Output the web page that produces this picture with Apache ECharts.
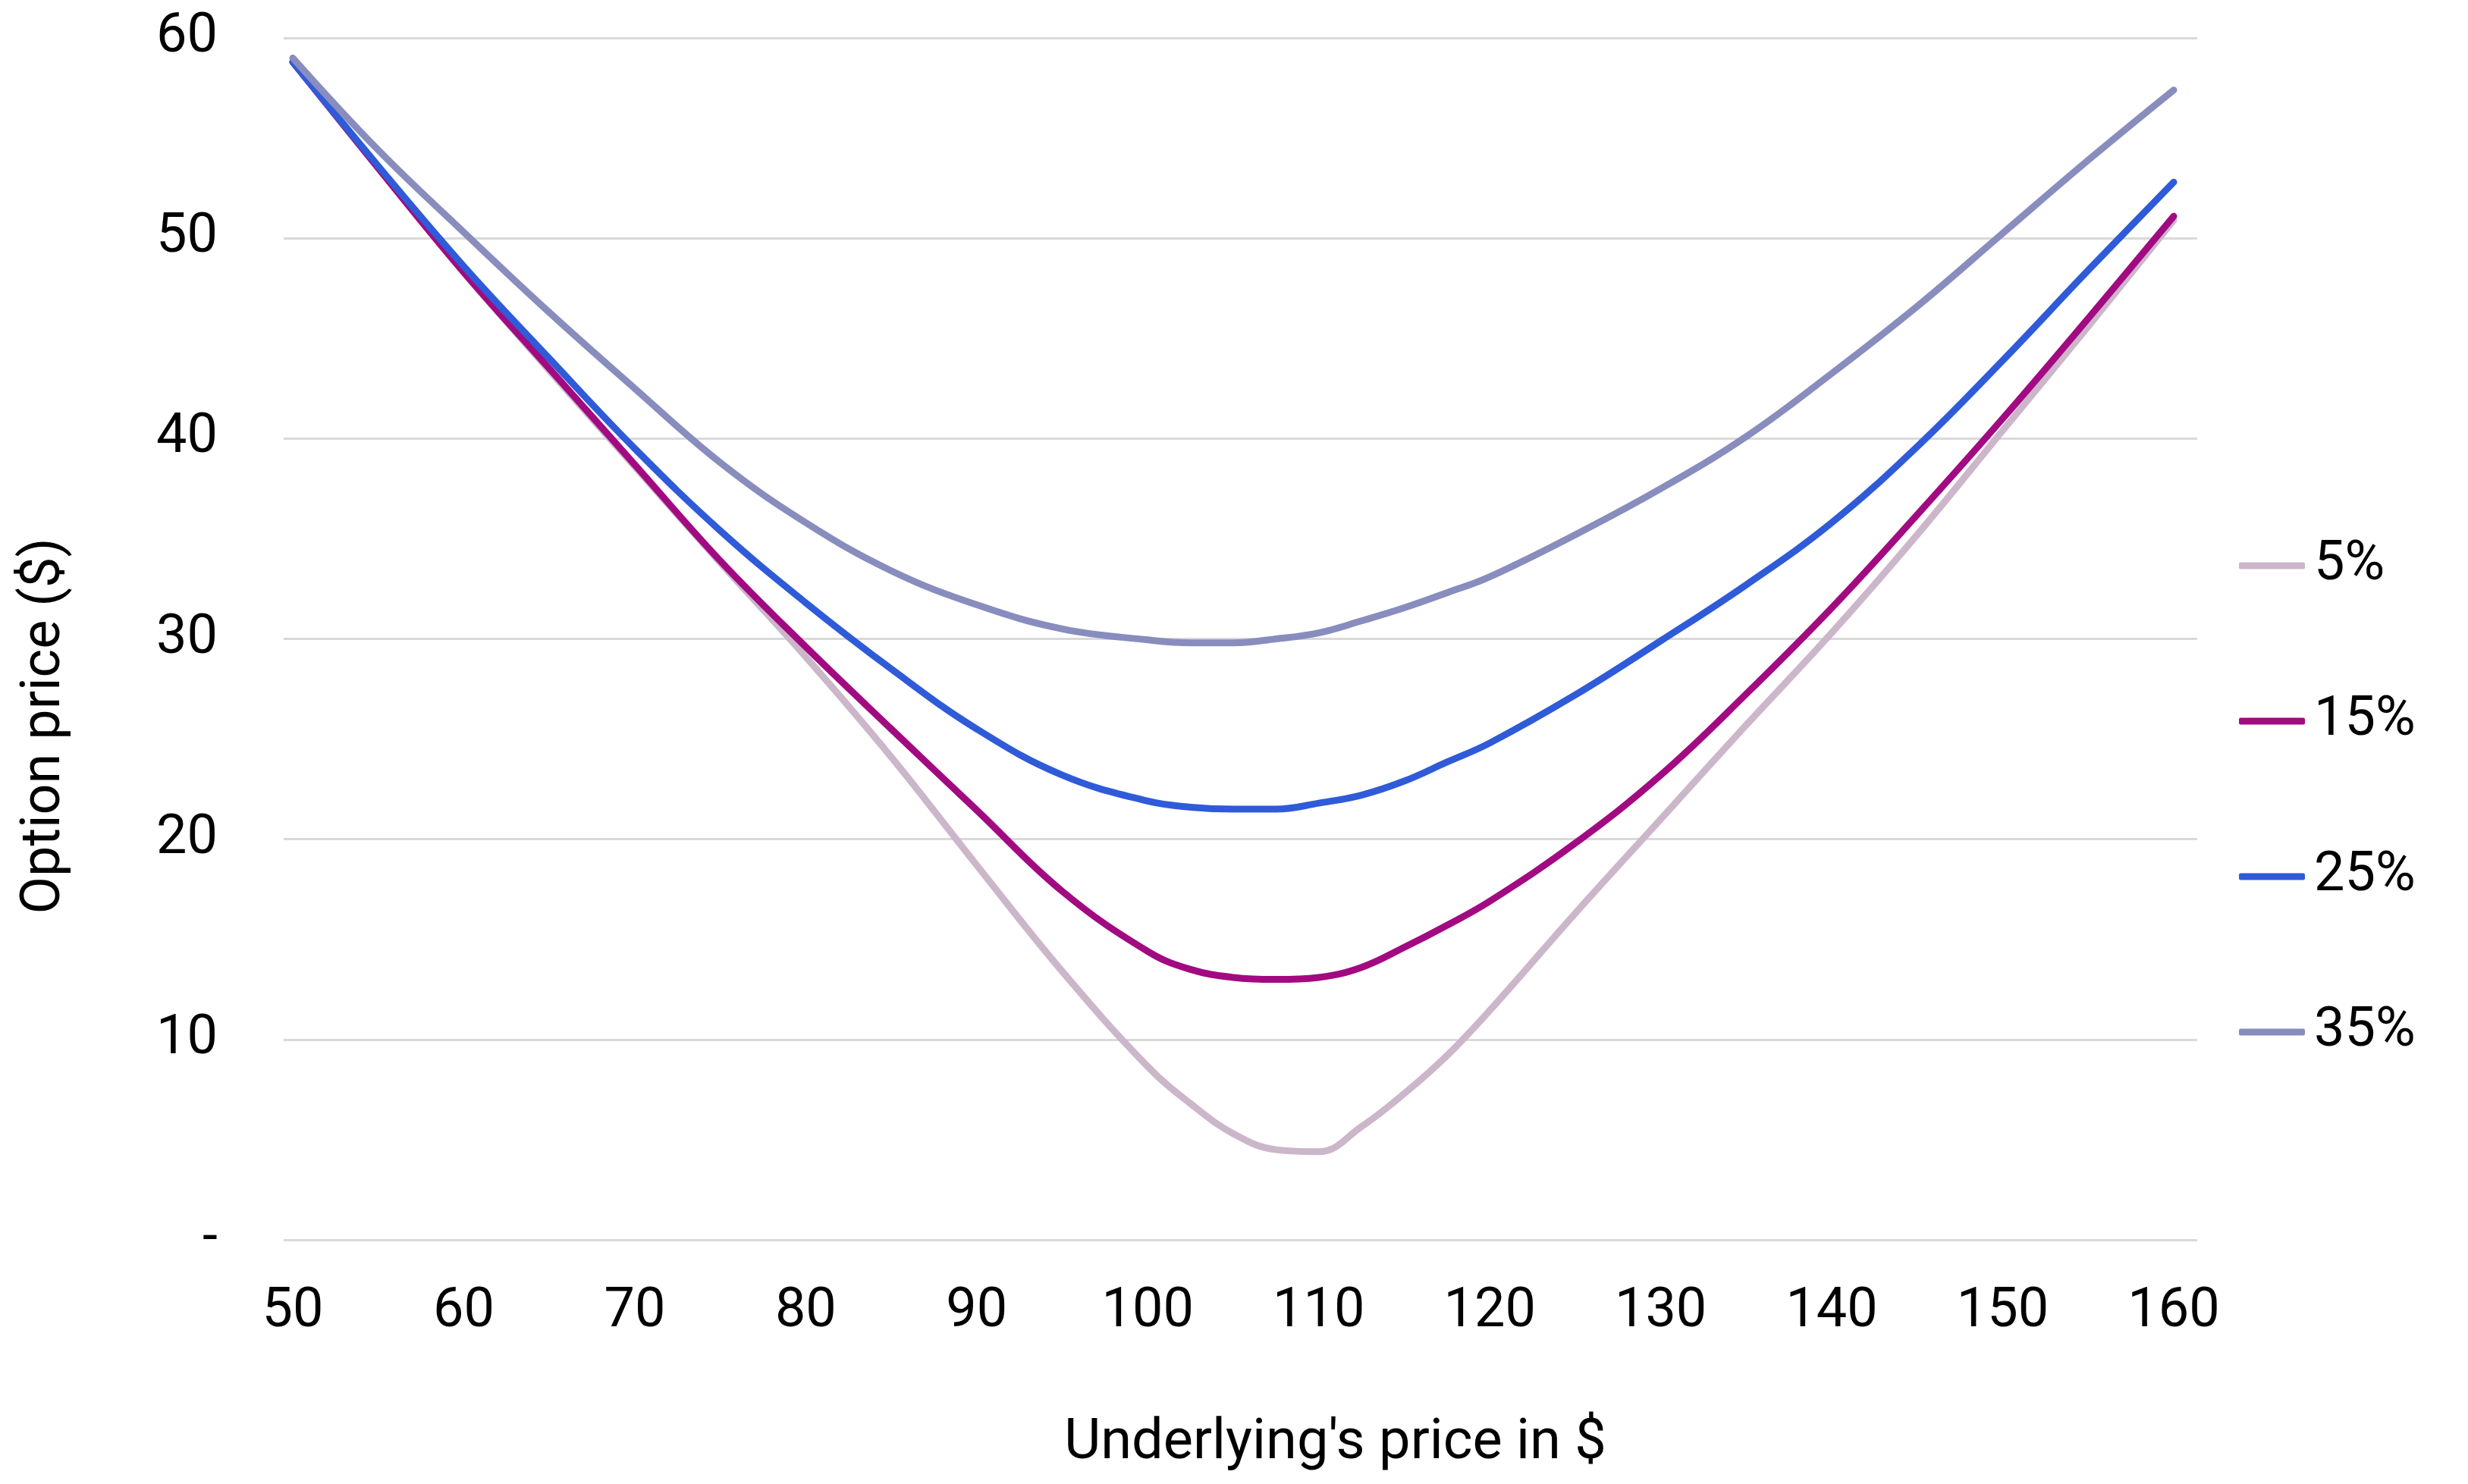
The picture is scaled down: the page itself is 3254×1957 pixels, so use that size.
<!DOCTYPE html>
<html>
<head>
<meta charset="utf-8">
<script src="https://cdn.jsdelivr.net/npm/echarts@6/dist/echarts.min.js"></script>
<style>
html,body{margin:0;padding:0;background:#fff;}
#chart{width:3254px;height:1957px;}
</style>
</head>
<body>
<div id="chart"></div>
<script>
// Underlying's price ($)
const prices = [50,55,60,65,70,75,80,85,90,95,100,102.5,105,107.5,110,112.5,115,117.5,120,125,130,135,140,145,150,155,160];
// Option price ($) per volatility
const vol5  = [58.8,53.5,48.3,43.4,38.6,33.8,29.1,24.1,18.7,13.4,8.65,6.8,5.3,4.5,4.4,5.65,7.3,9.2,11.45,16.3,21.0,25.7,30.3,35.2,40.4,45.6,50.9];
const vol15 = [58.8,53.5,48.3,43.5,38.7,33.9,29.6,25.5,21.45,17.4,14.4,13.5,13.1,13.0,13.1,13.6,14.6,15.7,16.9,19.8,23.2,27.25,31.55,36.2,41.0,46.0,51.1];
const vol25 = [58.8,53.6,48.6,44.0,39.5,35.4,31.8,28.5,25.5,23.2,21.9,21.6,21.5,21.5,21.8,22.2,22.9,23.85,24.8,27.2,29.9,32.7,35.8,39.6,43.9,48.4,52.8];
const vol35 = [59.0,54.4,50.3,46.3,42.5,38.8,35.8,33.4,31.7,30.5,29.95,29.8,29.8,30.0,30.3,30.9,31.55,32.3,33.1,35.2,37.5,40.1,43.25,46.6,50.25,53.9,57.4];
const seriesNames = ['5%','15%','25%','35%'];
const xTicks = [50,60,70,80,90,100,110,120,130,140,150,160];

const colors = ['#CCB6CA','#A20A82','#2F5BD9','#888DBE'];
const allValues = [vol5, vol15, vol25, vol35];
const FONT = 'Roboto';

const chart = echarts.init(document.getElementById('chart'), null, {renderer:'canvas'});
const series = seriesNames.map((n, i) => ({
  name: n,
  type: 'line',
  data: prices.map((p, j) => [p, allValues[i][j]]),
  smooth: 0.4,
  showSymbol: false,
  symbol: 'none',
  lineStyle: {color: colors[i], width: 9, cap: 'round', join: 'round'},
  itemStyle: {color: colors[i]},
  z: 2 + i
}));

chart.setOption({
  animation: false,
  backgroundColor: '#ffffff',
  textStyle: {fontFamily: FONT, color: '#000'},
  grid: {left: 374, right: 357, top: 50, bottom: 322, containLabel: false},
  xAxis: {
    type: 'value',
    min: 49.468,
    max: 161.375,
    name: "Underlying's price in $",
    nameLocation: 'middle',
    nameGap: 232,
    nameTextStyle: {fontFamily: FONT, fontSize: 74, color: '#000', padding: [0,0,0,250], verticalAlign: 'top'},
    axisLine: {show: false},
    axisTick: {show: false},
    splitLine: {show: false},
    axisLabel: {
      customValues: xTicks,
      fontFamily: FONT, fontSize: 72, color: '#000', margin: 60,
      formatter: v => String(v)
    }
  },
  yAxis: {
    type: 'value',
    min: 0, max: 60, interval: 10,
    name: 'Option price ($)',
    nameLocation: 'middle',
    nameGap: 278,
    nameTextStyle: {fontFamily: FONT, fontSize: 72, color: '#000', padding: [0,230,0,0]},
    axisLine: {show: false},
    axisTick: {show: false},
    splitLine: {show: true, lineStyle: {color: '#D9D9D9', width: 3}},
    axisLabel: {
      fontFamily: FONT, fontSize: 72, color: '#000', margin: 87,
      formatter: v => (v === 0 ? '-' : String(v))
    }
  },
  legend: {
    orient: 'vertical',
    left: 2947,
    top: 705,
    itemWidth: 87,
    itemHeight: 9,
    itemGap: 133,
    icon: 'roundRect',
    data: seriesNames,
    textStyle: {fontFamily: FONT, fontSize: 72, color: '#000', padding: [0,0,0,7]}
  },
  series: series
});
</script>
</body>
</html>
